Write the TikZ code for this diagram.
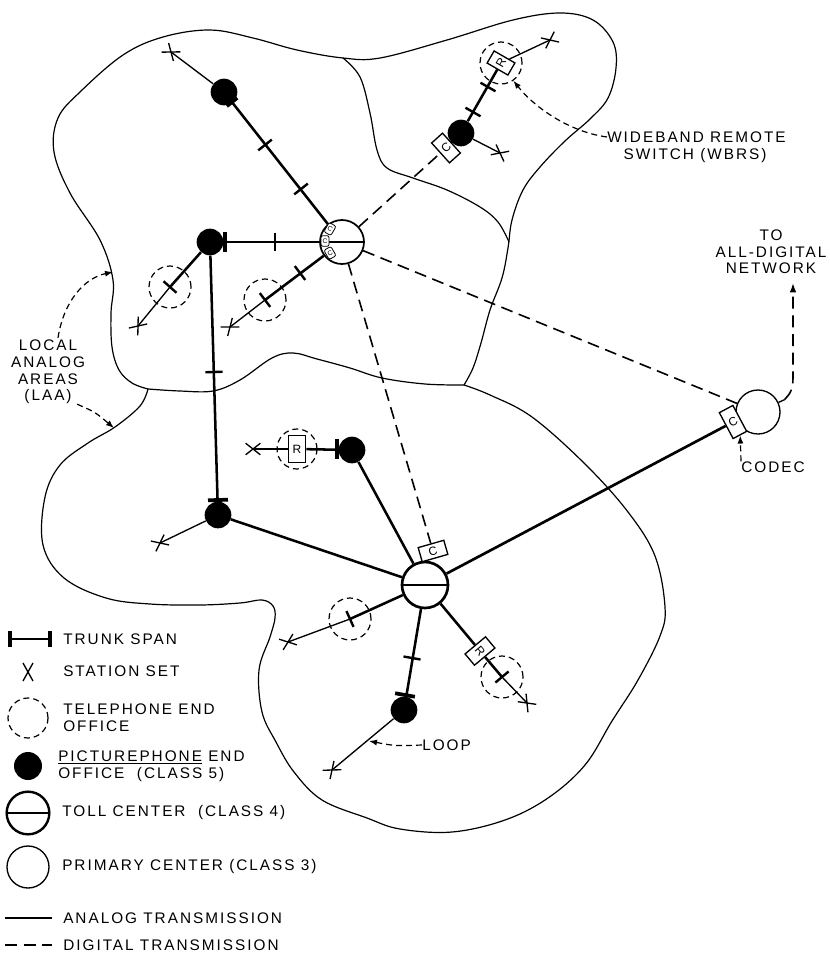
\documentclass[tikz,border=0pt]{standalone}
\usepackage{fontspec}
\setmainfont[LetterSpace=13]{Liberation Sans}
\usetikzlibrary{calc,arrows.meta}
\newcommand\stn[2]{%
  \draw[loopl] ($(#1)!7pt!38:(#2)$) -- ($(#1)!-7pt!38:(#2)$);
  \draw[loopl] ($(#1)!7pt!-38:(#2)$) -- ($(#1)!-7pt!-38:(#2)$);}
\begin{document}
\begin{tikzpicture}[x=0.75pt,y=-0.75pt,
  outl/.style={line width=0.9pt},
  trunk/.style={line width=1.9pt},
  loopl/.style={line width=1pt},
  dig/.style={line width=1.2pt, dash pattern=on 9pt off 5pt},
  ptr/.style={line width=0.9pt, dash pattern=on 4.5pt off 3pt, -{Latex[length=6pt,width=4.5pt]}},
  office/.style={circle, fill=black, inner sep=0, minimum size=20pt},
  teo/.style={circle, draw, line width=0.9pt, dash pattern=on 4.5pt off 3pt, inner sep=0, minimum size=31.5pt},
  toll/.style={circle, draw, inner sep=0, minimum size=#1, path picture={\draw[line width=1.3pt] (path picture bounding box.west) -- (path picture bounding box.east);}},
  prim/.style={circle, draw, line width=1pt, inner sep=0, minimum size=33pt},
  tick/.style={fill=black, inner sep=0, minimum width=1.8pt, minimum height=13pt},
  endbar/.style={fill=black, inner sep=0, minimum width=2.8pt, minimum height=15pt},
  box/.style={draw, line width=1pt, fill=white, inner sep=0, minimum width=11pt, minimum height=20pt, font=\fontsize{9}{9}\selectfont},
  mini/.style={draw, line width=0.6pt, fill=white, rounded corners=1.5pt, inner sep=0, minimum width=6pt, minimum height=8pt, font=\fontsize{5}{5}\selectfont},
  lbl/.style={font=\fontsize{11.5}{12.5}\selectfont, inner sep=0}]
\useasboundingbox (0,0) rectangle (829,953);

% ---------- local analog area outlines ----------
\draw[outl] plot[smooth, tension=0.6] coordinates {(148,389) (132,383) (119,370) (112,347) (111,313) (113,280) (100,240) (70,193) (54,152) (58,118) (80,92) (123,55) (163,37) (210,30) (253,38) (297,50) (343,58) (380,58) (447,40) (513,20) (560,13) (593,20) (613,42) (616,68) (608,98) (590,119) (565,141) (540,167) (523,190) (512,220) (508,248) (502,278) (490,310) (481,343) (473,368) (464,385)};
\draw[outl] plot[smooth, tension=0.6] coordinates {(464,385) (425,384) (382,378) (350,368) (317,359) (293,353) (272,358) (240,380) (213,391) (180,391) (148,389)};
\draw[outl] plot[smooth, tension=0.6] coordinates {(148,389) (140,406) (115,427) (88,443) (60,465) (45,497) (43,545) (64,578) (106,598) (150,604) (200,605) (240,603) (262,600) (273,606) (275,618) (270,637) (259,670) (262,712) (276,742) (294,772) (322,800) (367,818) (400,829) (452,832) (505,820) (548,798) (585,765) (612,721) (638,680) (660,636) (665,607) (655,556) (628,512) (585,464) (532,417) (490,395) (464,385)};
\draw[outl] plot[smooth, tension=0.6] coordinates {(343,58) (360,77) (370,113) (377,150) (387,168) (413,178) (447,190) (480,207) (498,222) (509,242)};

% ---------- telephone end offices (dashed) ----------
\node[teo] (E1) at (170,287) {};
\node[teo] (E2) at (265,300) {};
\node[teo] (E3) at (501,63) {};
\node[teo, minimum size=30pt] (El) at (297,449) {};
\node[teo] (E4) at (350,619) {};
\node[teo] (E5) at (502,677) {};

% ---------- picturephone end offices ----------
\node[office] (O1) at (224,92) {};
\node[office] (O2) at (210,242) {};
\node[office] (O3) at (218,515) {};
\node[office] (O4) at (352,450) {};
\node[office] (O5) at (404,710) {};
\node[office] (O6) at (461,133) {};

% ---------- toll and primary centres ----------
\node[toll=33pt, line width=1.3pt] (T1) at (342,242) {};
\node[toll=34.5pt, line width=2pt] (T2) at (425,585) {};
\node[prim] (P) at (758,412) {};

% ---------- station sets ----------
\coordinate (XS1) at (171,52);
\coordinate (XS2) at (138,326);
\coordinate (XS3) at (230,327);
\coordinate (XS4) at (500,153);
\coordinate (XS5) at (550,40);
\coordinate (XS6) at (253,449);
\coordinate (XS7) at (160,543);
\coordinate (XS8) at (288,642);
\coordinate (XS9) at (332,770);
\coordinate (XS10) at (527,703);

% ---------- codec and remote switch boxes ----------
\node[box, rotate=42] (Cw) at (446,148) {C};
\node[box, minimum width=20pt, minimum height=11pt, rotate=16] (C2) at (433,551) {C};
\node[box, minimum width=11.5pt, minimum height=22pt, rotate=28] (CP) at (733,422) {C};
\node[box, minimum width=13pt, minimum height=20pt] (Rl) at (297,449) {R};
\node[box, minimum width=10.5pt, minimum height=18pt, rotate=60] (Rw) at (501,63) {R};
\node[box, rotate=-50] (R2) at (480,651) {R};
\node[mini, rotate=-30] (m1) at (330,229) {C};
\node[mini] (m2) at (325,241) {C};
\node[mini, rotate=30] (m3) at (330,253) {C};

% ---------- connectors ----------
\draw[loopl] (O1) -- (XS1);
\draw[trunk] (O1) -- (T1);
\draw[trunk] (O2) -- (T1);
\draw[trunk] (O2) -- (E1.center);
\draw[loopl] (E1.center) -- (XS2);
\draw[trunk] (T1) -- (E2.center);
\draw[loopl] (E2.center) -- (XS3);
\draw[trunk] (O2) -- (O3);
\draw[loopl] (O3) -- (XS7);
\draw[trunk] (O3) -- (T2);
\draw[trunk] (O4) -- (T2);
\draw[trunk] (O4) -- (Rl);
\draw[loopl] (Rl) -- (XS6);
\draw[trunk] (T2) -- (E4.center);
\draw[loopl] (E4.center) -- (XS8);
\draw[trunk] (T2) -- (O5);
\draw[loopl] (O5) -- (XS9);
\draw[trunk] (T2) -- (R2);
\draw[trunk] (R2) -- (E5.center);
\draw[loopl] (E5.center) -- (XS10);
\draw[trunk, line width=2pt] (T2) -- (CP);
\draw[dig] (T1) -- (P);
\draw[dig] (T1) -- (C2);
\draw[dig] (T1) -- (Cw);
\draw[loopl] (O6) -- (XS4);
\draw[trunk] (O6) -- (Rw);
\draw[loopl] (Rw) -- (XS5);

% ---------- trunk span ticks and end bars ----------
\node[tick, rotate=-51.6] (k1) at (265,145) {};
\node[tick, rotate=-51.6] (k2) at (301,189) {};
\node[tick] (k3) at (275,242) {};
\node[tick, rotate=48.4] (k4) at (170,287) {};
\node[tick, rotate=37] (k5) at (300,273) {};
\node[tick, rotate=37] (k6) at (265,300) {};
\node[tick, rotate=-88.3] (k7) at (214,372) {};
\node[tick, rotate=24.4] (k8) at (350,619) {};
\node[tick, rotate=80] (k9) at (412,658) {};
\node[tick, rotate=-50] (k10) at (502,677) {};
\node[tick, rotate=60.3] (k11) at (473,112) {};
\node[tick, rotate=60.3] (k12) at (488,87) {};
\node[endbar] (b1) at (225,242) {};
\node[endbar, rotate=-88.3] (b2) at (218,500) {};
\node[endbar] (b3) at (337,449) {};
\node[endbar, rotate=80] (b4) at (405,695) {};
\node[endbar, minimum height=10pt, rotate=-51.6] (b5) at (232,102) {};

% ---------- station set marks ----------
\stn{XS1}{O1}
\stn{XS2}{E1}
\stn{XS3}{E2}
\stn{XS4}{O6}
\stn{XS5}{Rw}
\stn{XS6}{Rl}
\stn{XS7}{O3}
\stn{XS8}{E4}
\stn{XS9}{O5}
\stn{XS10}{E5}

% ---------- labels ----------
\node[lbl, anchor=west] (wb1) at (607,137) {WIDEBAND REMOTE};
\node[lbl] (wb2) at (695,156) {SWITCH (WBRS)};
\draw[ptr] (wb1.west) .. controls (570,132) and (535,108) .. (E3.-55);

\node[lbl, align=center] (net) at (771,252) {TO\\ALL-DIGITAL\\NETWORK};
\coordinate (netin) at (793,283);
\draw[loopl] (P.25) -- ++(25:5pt) coordinate (pst);
\draw[dig, -{Latex[length=7pt,width=5pt]}] (pst) .. controls (793,390) .. (793,370) -- (netin);

\node[lbl, anchor=west] (codec) at (741,467) {CODEC};
\draw[ptr] (codec.north west) -- (CP.south);

\node[lbl, anchor=west] (loop) at (422,745) {LOOP};
\coordinate (looptip) at (369,741);
\draw[ptr] (loop.west) .. controls (395,746) .. (looptip);

\node[lbl, align=center] (laa) at (48,372) {LOCAL\\ANALOG\\AREAS\\(LAA)};
\coordinate (laaA) at (113,272);
\coordinate (laaB) at (114,428);
\draw[ptr] ($(laa.north)+(10,-2)$) .. controls (64,300) and (85,278) .. (laaA);
\draw[ptr] ($(laa.south east)+(-8,0)$) .. controls (95,412) .. (laaB);

% ---------- legend ----------
\coordinate (lgA) at (10,639);
\coordinate (lgB) at (50,639);
\draw[trunk] (lgA) -- (lgB) node[pos=0, endbar, minimum height=12pt] (lgb1) {} node[pos=1, endbar, minimum height=12pt] (lgb2) {};
\node[lbl, anchor=west] (lt1) at (63,639) {TRUNK SPAN};
\draw[loopl] (23,663) -- (33,681) (33,663) -- (23,681);
\node[lbl, anchor=west] (lt2) at (63,671) {STATION SET};
\node[teo, minimum size=30pt] (lg3) at (28,718) {};
\node[lbl, anchor=west, align=left] (lt3) at (63,718) {TELEPHONE END\\OFFICE};
\node[office, minimum size=21pt] (lg4) at (28,766) {};
\node[lbl, anchor=west, align=left] (lt4) at (58,766) {\underline{PICTUREPHONE} END\\OFFICE\ \ (CLASS 5)};
\node[toll=32pt, line width=1.8pt] (lg5) at (28,813) {};
\node[lbl, anchor=west] (lt5) at (62,813) {TOLL CENTER\ \ (CLASS 4)};
\node[prim, minimum size=31.5pt] (lg6) at (28,867) {};
\node[lbl, anchor=west] (lt6) at (62,867) {PRIMARY CENTER (CLASS 3)};
\draw[line width=1.3pt] (5,918) -- (52,918);
\node[lbl, anchor=west] (lt7) at (63,918) {ANALOG TRANSMISSION};
\draw[dig] (5,945) -- (52,945);
\node[lbl, anchor=west] (lt8) at (63,945) {DIGITAL TRANSMISSION};
\end{tikzpicture}
\end{document}
